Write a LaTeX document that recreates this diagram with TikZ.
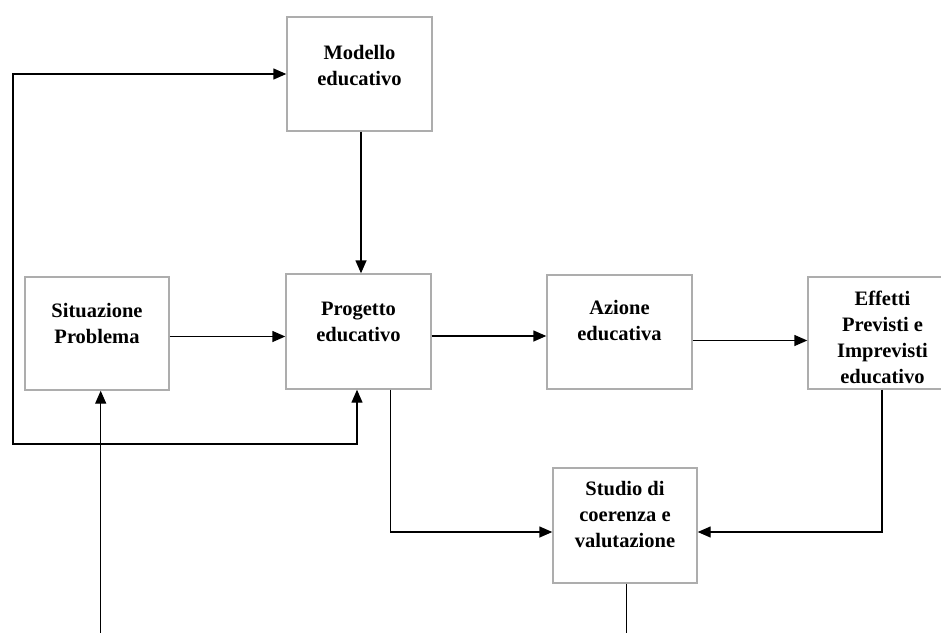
\documentclass[tikz,border=0pt]{standalone}
\usepackage{fontspec}
\setmainfont{Liberation Serif}
\usetikzlibrary{arrows.meta}
\tikzset{
  boxnode/.style={draw=black!32, line width=1.4pt, fill=white, inner sep=0pt, anchor=center},
  txt/.style={font=\fontsize{20.5}{26}\selectfont\bfseries, align=center, inner sep=0pt, anchor=center},
  conn/.style={draw=black, line width=1.4pt},
  arr/.style={conn, -{Triangle[length=13pt,width=11pt]}},
  darr/.style={conn, {Triangle[length=13pt,width=11pt]}-{Triangle[length=13pt,width=11pt]}}
}
\begin{document}
\begin{tikzpicture}[x=1pt,y=-1pt]
\useasboundingbox (0,0) rectangle (941,632);
\clip (0,0) rectangle (941,632);
\fill[white] (0,0) rectangle (941,632);

% boxes
\node[boxnode, minimum width=145pt, minimum height=114pt] (modello) at (359.5,74) {};
\node[boxnode, minimum width=144pt, minimum height=113pt] (situazione) at (97,333.5) {};
\node[boxnode, minimum width=145pt, minimum height=115pt] (progetto) at (358.5,331.5) {};
\node[boxnode, minimum width=145pt, minimum height=114pt] (azione) at (619.5,332) {};
\node[boxnode, minimum width=145pt, minimum height=112pt] (effetti) at (880.5,333) {};
\node[boxnode, minimum width=144pt, minimum height=115pt] (studio) at (625,525.5) {};

% texts
\node[txt] (modellot) at ([yshift=8.5pt]modello.center) {Modello\\educativo};
\node[txt] (situazionet) at ([yshift=10.5pt]situazione.center) {Situazione\\Problema};
\node[txt] (progettot) at ([yshift=10pt]progetto.center) {Progetto\\educativo};
\node[txt] (azionet) at ([yshift=11pt]azione.center) {Azione\\educativa};
\node[txt] (effettit) at ([xshift=2pt,yshift=-4pt]effetti.center) {Effetti\\Previsti e\\Imprevisti\\educativo};
\node[txt] (studiot) at ([yshift=11pt]studio.center) {Studio di\\coerenza e\\valutazione};

% helper coordinates
\coordinate (mp) at (361,0);
\coordinate (r1) at (0,336.5);
\coordinate (r2) at (0,336);
\coordinate (r3) at (0,340.5);
\coordinate (lp1) at (13,74);
\coordinate (lp2) at (13,444);
\coordinate (lp3) at (357,444);
\coordinate (pd1) at (390.5,532);
\coordinate (ed1) at (882,532);
\coordinate (sb) at (626.5,640);
\coordinate (ub) at (100.7,640);

% connectors
\draw[arr] (modello.south -| mp) -- (progetto.north -| mp);
\draw[arr] (situazione.east |- r1) -- (progetto.west |- r1);
\draw[arr] (progetto.east |- r2) -- (azione.west |- r2);
\draw[arr] (azione.east |- r3) -- (effetti.west |- r3);
\draw[darr] (modello.west |- lp1) -- (lp1) -- (lp2) -- (lp3) -- (progetto.south -| lp3);
\draw[arr] (progetto.south -| pd1) -- (pd1) -- (studio.west |- pd1);
\draw[arr] (effetti.south -| ed1) -- (ed1) -- (studio.east |- ed1);
\draw[conn] (studio.south -| sb) -- (sb);
\draw[arr] (ub) -- (situazione.south -| ub);
\end{tikzpicture}
\end{document}
